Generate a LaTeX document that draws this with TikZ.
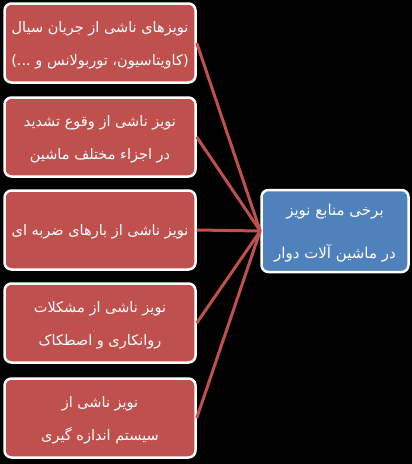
\documentclass[tikz,border=0pt]{standalone}
\usepackage{fontspec}
\newfontfamily\farsi[Script=Arabic]{DejaVu Sans}
\TeXXeTstate=1
\definecolor{srcred}{HTML}{C0504D}
\definecolor{mainblue}{HTML}{4F81BD}
\begin{document}
\begin{tikzpicture}[x=1pt, y=-1pt,
    srcbox/.style={draw=white, line width=2.5pt, rounded corners=7pt, fill=srcred,
      text=white, minimum width=191pt, minimum height=79pt, align=center, text depth=-5pt,
      font=\farsi\fontsize{14.5}{33}\selectfont},
    mainbox/.style={srcbox, fill=mainblue, minimum width=147pt, minimum height=82pt,
      font=\farsi\fontsize{15}{43}\selectfont},
    feed/.style={draw=srcred, line width=3pt}]
    \fill[black] (0,0) rectangle (412,464);
    % noise sources
    \node[srcbox] (flow) at (100,43) {\beginR نویزهای ناشی از جریان سیال\endR\\\beginR (کاویتاسیون، توربولانس و ...)\endR};
    \node[srcbox] (reso) at (100,137) {\beginR نویز ناشی از وقوع تشدید\endR\\\beginR در اجزاء مختلف ماشین\endR};
    \node[srcbox] (impact) at (100,230) {\beginR نویز ناشی از بارهای ضربه ای\endR};
    \node[srcbox] (lube) at (100,323) {\beginR نویز ناشی از مشکلات\endR\\\beginR روانکاری و اصطکاک\endR};
    \node[srcbox] (meas) at (100,418) {\beginR نویز ناشی از\endR\\\beginR سیستم اندازه گیری\endR};
    % main box
    \node[mainbox] (main) at (335,231) {\beginR برخی منابع نویز\endR\\\beginR در ماشین آلات دوار\endR};
    \draw[feed] (flow.east) -- (main.west);
    \draw[feed] (reso.east) -- (main.west);
    \draw[feed] (impact.east) -- (main.west);
    \draw[feed] (lube.east) -- (main.west);
    \draw[feed] (meas.east) -- (main.west);
\end{tikzpicture}
\end{document}
